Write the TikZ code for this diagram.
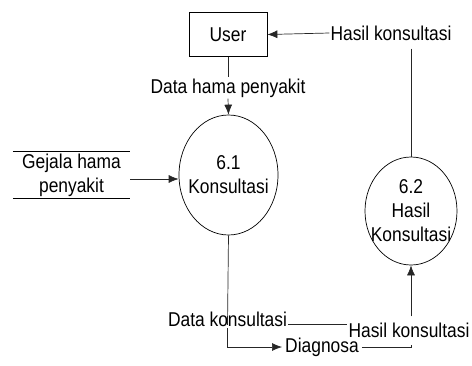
\documentclass[tikz,border=0pt]{standalone}
\usepackage{fontspec}
\setmainfont{Liberation Sans}[FakeStretch=0.87]
\usetikzlibrary{shapes.geometric, arrows.meta}
\tikzset{flow/.style={draw=black!85, line width=0.7pt, -{Latex[length=10pt,width=8pt]}}}
\tikzset{link/.style={draw=black!85, line width=0.7pt}}
\tikzset{proc/.style={ellipse, draw, line width=0.7pt, inner sep=0pt}}
\tikzset{lbl/.style={inner sep=1pt, align=center}}

\begin{document}
\begin{tikzpicture}[x=1pt, y=-1pt, font=\fontsize{20}{24}\selectfont]
\useasboundingbox (0,0) rectangle (472,365);
% External entity
\node[draw, line width=0.7pt, minimum width=78pt, minimum height=44pt] (user) at (228,34.5) {User};
% Processes
\node[proc, minimum width=99pt, minimum height=120pt, label={[lbl]center:6.1\\Konsultasi}] (p61) at (228.5,175) {};
\node[proc, minimum width=92pt, minimum height=108pt, label={[lbl]center:6.2\\Hasil\\Konsultasi}] (p62) at (411,211) {};
% Data store
\node[lbl, minimum width=117pt, minimum height=46pt] (gejala) at (71.5,175) {Gejala hama\\penyakit};
\draw[line width=0.7pt] (gejala.north west) -- (gejala.north east);
\draw[line width=0.7pt] (gejala.south west) -- (gejala.south east);
\node[lbl, inner sep=3pt] (diagnosa) at (322,347) {Diagnosa};
% Flow labels
\node[lbl] (hasilA) at (391,33) {Hasil konsultasi};
\node[lbl] (dataHama) at (228,88) {Data hama penyakit};
\node[lbl] (dataKons) at (227.5,319.5) {Data konsultasi};
\node[lbl] (hasilB) at (409,330) {Hasil konsultasi};
% User -> 6.1
\draw[link] (user.south) -- (dataHama.north);
\draw[flow] (dataHama.south) -- (p61.north);
\draw[flow] ([yshift=-4pt]gejala.east) -- ([yshift=-4pt]p61.west);
% 6.1 -> Diagnosa
\draw[link] (p61.south) -- ([yshift=-14pt]dataKons.north);
\draw[flow] (dataKons.south) |- (diagnosa.west);
\draw[link] ([yshift=2pt]dataKons.base east) -- ([yshift=2pt]dataKons.base east -| hasilB.west);
% Diagnosa -> 6.2
\draw[link] (diagnosa.east) -| ([xshift=2pt, yshift=-6pt]hasilB.south);
\draw[flow] ([xshift=2pt, yshift=5pt]hasilB.north) -- (p62.south);
% 6.2 -> User
\draw[link] ([yshift=-7pt]hasilA.south -| p62.north) -- (p62.north);
\draw[flow] (hasilA.west) -- (user.east);
\end{tikzpicture}
\end{document}
